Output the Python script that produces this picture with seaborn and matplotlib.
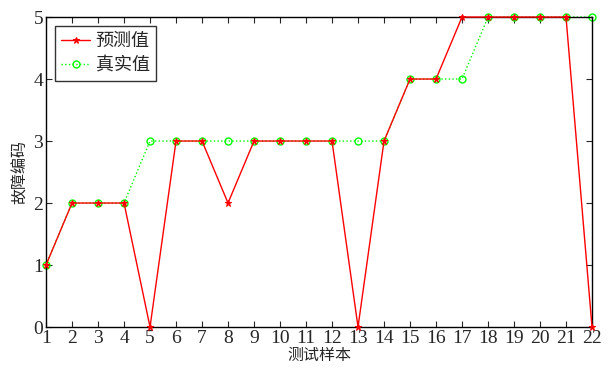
import numpy as np
import pandas as pd
import matplotlib
matplotlib.use("Agg")
import matplotlib.pyplot as plt
import seaborn as sns

sns.set_style("ticks")
plt.rcParams["font.family"] = ["Liberation Serif", "Noto Sans CJK SC"]
plt.rcParams["axes.unicode_minus"] = False

samples = list(range(1, 23))
predicted = [1, 2, 2, 2, 0, 3, 3, 2, 3, 3, 3, 3, 0, 3, 4, 4, 5, 5, 5, 5, 5, 0]
actual = [1, 2, 2, 2, 3, 3, 3, 3, 3, 3, 3, 3, 3, 3, 4, 4, 4, 5, 5, 5, 5, 5]

df = pd.DataFrame({"样本": samples, "预测值": predicted, "真实值": actual})

fig = plt.figure(figsize=(6.08, 3.69), dpi=100)
ax = fig.add_axes([0.0757, 0.1138, 0.898, 0.840])

sns.lineplot(data=df, x="样本", y="真实值", ax=ax, color="#00ff00", linewidth=1.0,
             linestyle=":", marker="o", markersize=5, markerfacecolor="none",
             markeredgecolor="#00ff00", markeredgewidth=1.0, label="真实值", zorder=2,
             clip_on=False)
sns.lineplot(data=df, x="样本", y="预测值", ax=ax, color="#ff0000", linewidth=1.0,
             marker="*", markersize=5, markeredgecolor="#ff0000", label="预测值", zorder=3,
             clip_on=False)

ax.set_xlim(1, 22)
ax.set_ylim(0, 5)
ax.set_xticks(samples)
ax.set_yticks(range(0, 6))
ax.tick_params(direction="in", top=True, right=True, labelsize=14, length=4, pad=2)
for lab in ax.get_xticklabels() + ax.get_yticklabels():
    lab.set_family("Liberation Serif")
ax.set_xlabel("测试样本", fontsize=11.5, family="Noto Sans CJK SC", labelpad=0)
ax.set_ylabel("故障编码", fontsize=11.5, family="Noto Sans CJK SC", labelpad=3)
for s in ax.spines.values():
    s.set_linewidth(1.0)
    s.set_color("black")

handles, labels = ax.get_legend_handles_labels()
leg = ax.legend(handles[::-1], labels[::-1], loc="upper left", frameon=True, fancybox=False,
                edgecolor="black", handlelength=1.6, handletextpad=0.3, borderpad=0.35,
                labelspacing=0.35, prop={"family": "Noto Sans CJK SC", "size": 13})
leg.get_frame().set_linewidth(1.0)
leg.set_zorder(5)

fig.savefig("out.png", dpi=100)
